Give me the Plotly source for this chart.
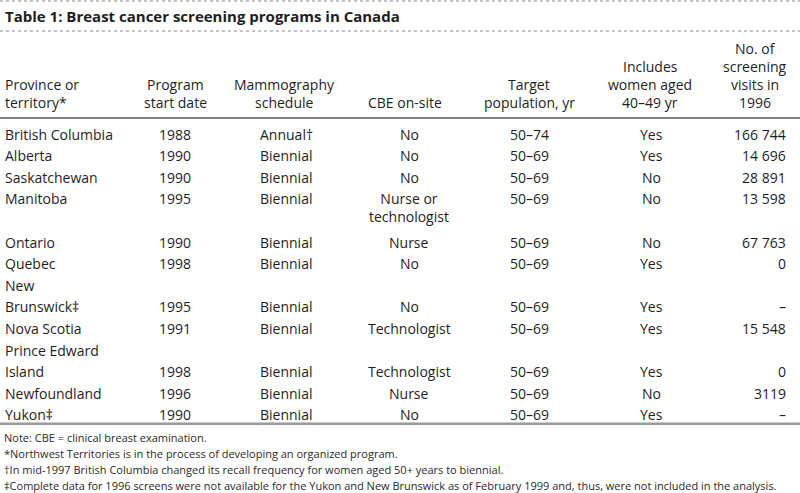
import plotly.graph_objects as go

# ---------------- data ----------------
title = "Table 1: Breast cancer screening programs in Canada"

header_labels = [
    ["Province or", "territory*"],
    ["Program", "start date"],
    ["Mammography", "schedule"],
    ["CBE on-site"],
    ["Target", "population, yr"],
    ["Includes", "women aged", "40–49 yr"],
    ["No. of", "screening", "visits in", "1996"],
]

provinces = [
    ["British Columbia"], ["Alberta"], ["Saskatchewan"], ["Manitoba"],
    ["Ontario"], ["Quebec"], ["New", "Brunswick‡"], ["Nova Scotia"],
    ["Prince Edward", "Island"], ["Newfoundland"], ["Yukon‡"],
]
start_years = [1988, 1990, 1990, 1995, 1990, 1998, 1995, 1991, 1998, 1996, 1990]
schedules = ["Annual†", "Biennial", "Biennial", "Biennial", "Biennial", "Biennial",
             "Biennial", "Biennial", "Biennial", "Biennial", "Biennial"]
cbe_onsite = [["No"], ["No"], ["No"], ["Nurse or", "technologist"], ["Nurse"], ["No"],
              ["No"], ["Technologist"], ["Technologist"], ["Nurse"], ["No"]]
target_ages = ["50–74", "50–69", "50–69", "50–69", "50–69", "50–69",
               "50–69", "50–69", "50–69", "50–69", "50–69"]
includes_40_49 = ["Yes", "Yes", "No", "No", "No", "Yes", "Yes", "Yes", "Yes", "No", "Yes"]
visits_1996 = [166744, 14696, 28891, 13598, 67763, 0, None, 15548, 0, 3119, None]

notes = [
    "Note: CBE = clinical breast examination.",
    "*Northwest Territories is in the process of developing an organized program.",
    "†In mid-1997 British Columbia changed its recall frequency for women aged 50+ years to biennial.",
    "‡Complete data for 1996 screens were not available for the Yukon and New Brunswick as of February 1999 and, thus, were not included in the analysis.",
]

# ---------------- layout constants ----------------
W, H = 800, 493
FONT = "Open Sans, Lato, sans-serif"
TXT = "#1e1e1e"
NOTE_TXT = "#2a2a2a"
BODY_SIZE = 14
col_x = [3, 175, 258, 409, 529, 651, 788]
col_anchor = ["left", "center", "left", "center", "center", "center", "right"]
head_x = [3, 175, 284, 405, 529, 650, 755]
head_anchor = ["left", "center", "center", "center", "center", "center", "center"]
title_y = 16
top_rule_y, title_rule_y, head_rule_y = 1, 31, 118
head_last_y, head_step = 102, 18
body_first_y, slot = 134, 21.6
note_first_y, note_step = 437, 16


def fmt_visits(v):
    if v is None:
        return "–"
    if v >= 10000:
        return f"{v:,}".replace(",", " ")
    return str(v)


annotations = []


def add_text(x, y, s, anchor, size=BODY_SIZE, bold=False, color=TXT):
    annotations.append(dict(
        x=x, y=y, xref="x", yref="y", text=f"<b>{s}</b>" if bold else s,
        showarrow=False, xanchor=anchor, yanchor="middle",
        font=dict(family=FONT, size=size, color=color),
    ))


add_text(3, title_y, title, "left", size=15, bold=True)

# header (bottom aligned)
for c, lines in enumerate(header_labels):
    n = len(lines)
    for i, s in enumerate(lines):
        add_text(head_x[c], head_last_y - (n - 1 - i) * head_step, s, head_anchor[c])

# body
line_h = 1.3 * BODY_SIZE
s_idx = 0
for r in range(len(provinces)):
    prov = provinces[r]
    main_slot = s_idx + len(prov) - 1
    y_main = body_first_y + main_slot * slot
    for i, s in enumerate(prov):
        add_text(col_x[0], body_first_y + (s_idx + i) * slot, s, col_anchor[0])
    row_vals = [str(start_years[r]), schedules[r], None, target_ages[r],
                includes_40_49[r], fmt_visits(visits_1996[r])]
    for k, v in enumerate(row_vals):
        c = k + 1
        if v is None:
            cl = cbe_onsite[r]
            add_text(col_x[c], y_main + (len(cl) - 1) * line_h / 2, "<br>".join(cl),
                     col_anchor[c])
        else:
            add_text(col_x[c], y_main, v, col_anchor[c])
    used = max(len(prov), len(prov) - 1 + len(cbe_onsite[r]))
    s_idx += used

last_y = body_first_y + (s_idx - 1) * slot
bottom_rule_y = last_y + 9

for i, s in enumerate(notes):
    add_text(2, note_first_y + i * note_step, s, "left", size=11, color=NOTE_TXT)

shapes = [
    dict(type="line", xref="x", yref="y", x0=0, x1=W, y0=top_rule_y, y1=top_rule_y,
         line=dict(color="#8a8a8a", width=1, dash="dot")),
    dict(type="line", xref="x", yref="y", x0=0, x1=W, y0=title_rule_y, y1=title_rule_y,
         line=dict(color="#8a8a8a", width=1, dash="dot")),
    dict(type="line", xref="x", yref="y", x0=0, x1=W, y0=head_rule_y, y1=head_rule_y,
         line=dict(color="#555555", width=1.5)),
    dict(type="line", xref="x", yref="y", x0=0, x1=W, y0=bottom_rule_y, y1=bottom_rule_y,
         line=dict(color="#9a9a9a", width=2.5)),
]

fig = go.Figure()
fig.update_layout(
    width=W, height=H, margin=dict(l=0, r=0, t=0, b=0),
    paper_bgcolor="white", plot_bgcolor="white",
    xaxis=dict(range=[0, W], visible=False, fixedrange=True),
    yaxis=dict(range=[H, 0], visible=False, fixedrange=True),
    annotations=annotations, shapes=shapes, showlegend=False,
)
fig.write_html(
    "out.html",
    config={"displayModeBar": False},
    post_script="document.body.style.margin='0';document.body.style.overflow='hidden';",
)
